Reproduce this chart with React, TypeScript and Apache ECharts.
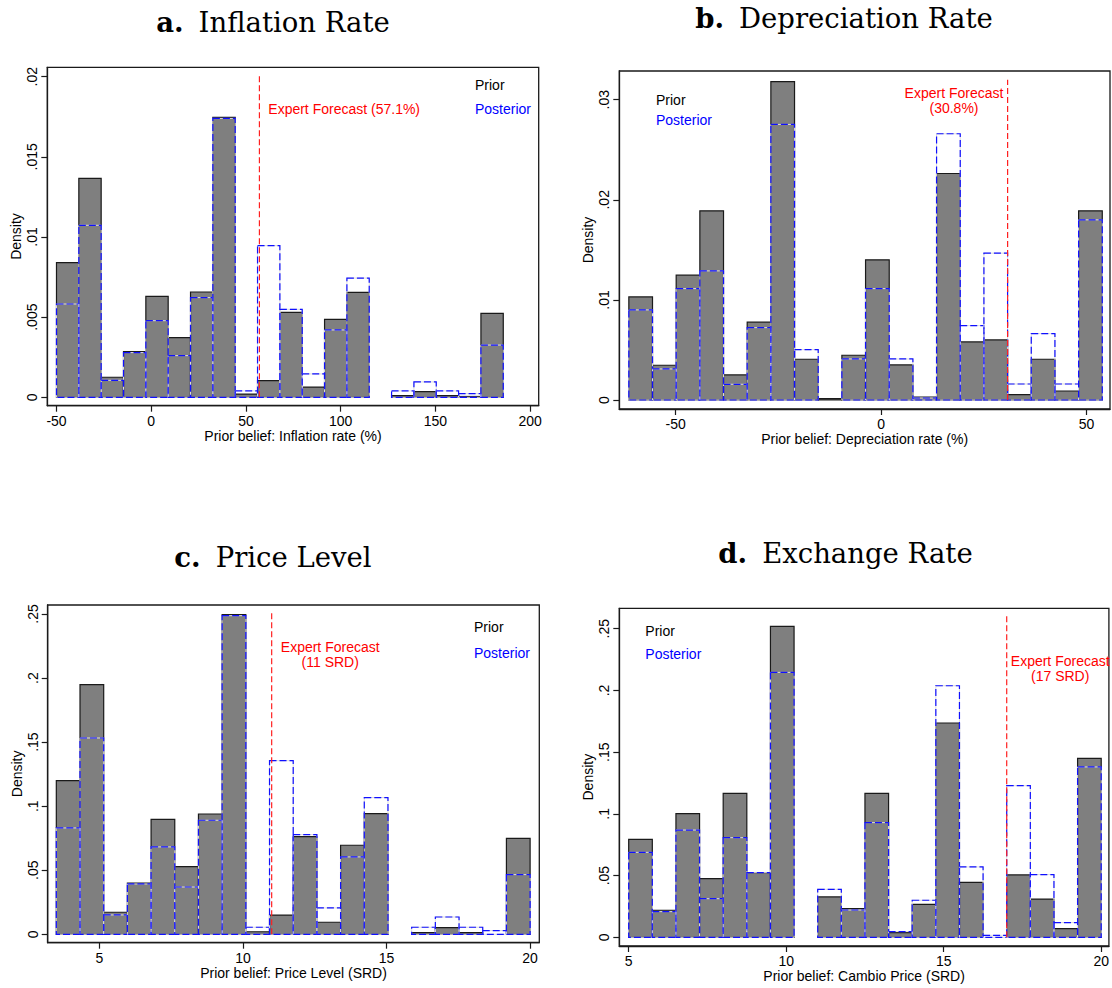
import React, { useEffect, useRef } from "react";
import * as echarts from "echarts";

// ---------- Data ----------
// Panel a: Inflation rate (%)
const inflBinStart = -50;
const inflBinWidth = 11.79;
const inflPrior = [0.0084, 0.01366, 0.00125, 0.00285, 0.0063, 0.00372, 0.00657, 0.01746, 0.0002, 0.00104, 0.0053, 0.00064, 0.00486, 0.00655, 0, 0.0001, 0.00035, 0.0001, 0.00005, 0.00524];
const inflPosterior = [0.00582, 0.01073, 0.00106, 0.00279, 0.00478, 0.0026, 0.00622, 0.0174, 0.0004, 0.00946, 0.00549, 0.00146, 0.0042, 0.00744, 0, 0.0004, 0.00096, 0.0004, 0.00023, 0.00326];
const inflForecast = 57.1;
const inflXTicks = [-50, 0, 50, 100, 150, 200];
const inflYTicks = [0, 0.005, 0.01, 0.015, 0.02];

// Panel b: Depreciation rate (%)
const depBinStart = -61.4;
const depBinWidth = 5.762;
const depPrior = [0.0103, 0.00347, 0.01247, 0.0189, 0.0025, 0.00777, 0.0318, 0.00407, 0.00013, 0.00447, 0.014, 0.0035, 0.0003, 0.02263, 0.0058, 0.006, 0.00053, 0.00407, 0.0009, 0.0189];
const depPosterior = [0.009, 0.0031, 0.01113, 0.0129, 0.00157, 0.00723, 0.02753, 0.00503, 0, 0.0041, 0.01113, 0.0041, 0.0002, 0.0266, 0.00743, 0.01467, 0.0016, 0.00663, 0.0016, 0.018];
const depForecast = 30.8;
const depXTicks = [-50, 0, 50];
const depYTicks = [0, 0.01, 0.02, 0.03];

// Panel c: Price level (SRD)
const priceBinStart = 3.5;
const priceBinWidth = 0.825;
const pricePrior = [0.1199, 0.1948, 0.0172, 0.04, 0.0897, 0.0528, 0.0939, 0.2495, 0.002, 0.015, 0.0762, 0.0094, 0.0695, 0.0942, 0, 0.0013, 0.0052, 0.0013, 0, 0.0749];
const pricePosterior = [0.083, 0.1532, 0.0151, 0.0393, 0.0682, 0.0369, 0.089, 0.2487, 0.0055, 0.1355, 0.0778, 0.0206, 0.0604, 0.1067, 0, 0.0055, 0.0135, 0.0055, 0.0029, 0.0466];
const priceForecast = 11;
const priceXTicks = [5, 10, 15, 20];
const priceYTicks = [0, 0.05, 0.1, 0.15, 0.2, 0.25];

// Panel d: Exchange rate (SRD)
const fxBinStart = 5;
const fxBinWidth = 0.75;
const fxPrior = [0.0794, 0.0219, 0.1002, 0.0475, 0.1166, 0.0524, 0.2519, 0, 0.0327, 0.0232, 0.1166, 0.0038, 0.0267, 0.1736, 0.0445, 0, 0.0505, 0.031, 0.007, 0.145];
const fxPosterior = [0.0688, 0.0208, 0.0869, 0.0313, 0.0807, 0.0524, 0.2146, 0, 0.0389, 0.0221, 0.0929, 0.0046, 0.03, 0.2038, 0.057, 0.0016, 0.1228, 0.0508, 0.0119, 0.138];
const fxForecast = 17;
const fxXTicks = [5, 10, 15, 20];
const fxYTicks = [0, 0.05, 0.1, 0.15, 0.2, 0.25];

// ---------- Layout ----------
const SANS = "'Liberation Sans', Arial, Helvetica, sans-serif";
const SERIF = "'DejaVu Serif', serif";

type Panel = {
  letter: string;
  title: string;
  titleX: number;
  titleY: number;
  grid: { left: number; top: number; width: number; height: number };
  xMin: number; xMax: number; yMin: number; yMax: number;
  xTicks: number[]; yTicks: number[];
  xName: string;
  binStart: number; binWidth: number;
  prior: number[]; posterior: number[];
  forecast: number; forecastTop: number;
  fcLines: string[]; fcX: number; fcY: number; fcAlign: string;
  legX: number; legY1: number; legY2: number;
};

const panels: Panel[] = [
  {
    letter: "a.", title: "Inflation Rate", titleX: 273, titleY: 22,
    grid: { left: 47.3, top: 67.3, width: 491.4, height: 338.4 },
    xMin: -54.85, xMax: 204.5, yMin: -0.000524, yMax: 0.020586,
    xTicks: inflXTicks, yTicks: inflYTicks,
    xName: "Prior belief: Inflation rate (%)",
    binStart: inflBinStart, binWidth: inflBinWidth, prior: inflPrior, posterior: inflPosterior,
    forecast: inflForecast, forecastTop: 0.0201,
    fcLines: ["Expert Forecast (57.1%)"], fcX: 268.3, fcY: 109, fcAlign: "left",
    legX: 475, legY1: 85, legY2: 109.3,
  },
  {
    letter: "b.", title: "Depreciation Rate", titleX: 844, titleY: 18,
    grid: { left: 619.3, top: 71, width: 490.7, height: 338 },
    xMin: -63.72, xMax: 55.72, yMin: -0.0009, yMax: 0.03287,
    xTicks: depXTicks, yTicks: depYTicks,
    xName: "Prior belief: Depreciation rate (%)",
    binStart: depBinStart, binWidth: depBinWidth, prior: depPrior, posterior: depPosterior,
    forecast: depForecast, forecastTop: 0.032,
    fcLines: ["Expert Forecast", "(30.8%)"], fcX: 954, fcY: 93.3, fcAlign: "center",
    legX: 656, legY1: 100, legY2: 120.3,
  },
  {
    letter: "c.", title: "Price Level", titleX: 273, titleY: 557,
    grid: { left: 47.7, top: 605, width: 491.6, height: 337.7 },
    xMin: 3.2, xMax: 20.32, yMin: -0.00656, yMax: 0.25702,
    xTicks: priceXTicks, yTicks: priceYTicks,
    xName: "Prior belief: Price Level (SRD)",
    binStart: priceBinStart, binWidth: priceBinWidth, prior: pricePrior, posterior: pricePosterior,
    forecast: priceForecast, forecastTop: 0.2505,
    fcLines: ["Expert Forecast", "(11 SRD)"], fcX: 330.2, fcY: 646.7, fcAlign: "center",
    legX: 474, legY1: 627.3, legY2: 652.7,
  },
  {
    letter: "d.", title: "Exchange Rate", titleX: 845.5, titleY: 553,
    grid: { left: 619.3, top: 608.3, width: 490.7, height: 337.7 },
    xMin: 4.702, xMax: 20.244, yMin: -0.00705, yMax: 0.26653,
    xTicks: fxXTicks, yTicks: fxYTicks,
    xName: "Prior belief: Cambio Price (SRD)",
    binStart: fxBinStart, binWidth: fxBinWidth, prior: fxPrior, posterior: fxPosterior,
    forecast: fxForecast, forecastTop: 0.2605,
    fcLines: ["Expert Forecast", "(17 SRD)"], fcX: 1060.2, fcY: 661, fcAlign: "center",
    legX: 645.3, legY1: 630.7, legY2: 654,
  },
];

function fmtDensity(v: number): string {
  if (v === 0) return "0";
  const s = String(Math.round(v * 100000) / 100000);
  return s.replace(/^0\./, ".");
}

function binData(start: number, width: number, vals: number[]) {
  return vals.map((v, i) => [start + i * width, start + (i + 1) * width, v]);
}

function buildOption() {
  const grid: any[] = [];
  const xAxis: any[] = [];
  const yAxis: any[] = [];
  const series: any[] = [];
  const graphic: any[] = [];

  panels.forEach((p, i) => {
    grid.push({
      left: p.grid.left, top: p.grid.top, width: p.grid.width, height: p.grid.height,
      show: true, borderColor: "#1a1a1a", borderWidth: 1.3, backgroundColor: "#fff",
      containLabel: false,
    });
    xAxis.push({
      type: "value", gridIndex: i, min: p.xMin, max: p.xMax,
      name: p.xName, nameLocation: "middle", nameGap: 23,
      nameTextStyle: { fontFamily: SANS, fontSize: 14, color: "#000" },
      axisLine: { show: true, onZero: false, lineStyle: { color: "#1a1a1a", width: 1.3 } },
      axisTick: { show: true, length: 6, customValues: p.xTicks, lineStyle: { color: "#1a1a1a", width: 1.2 } },
      axisLabel: { customValues: p.xTicks, margin: 8, fontFamily: SANS, fontSize: 14, color: "#000", formatter: (v: number) => String(v) },
      splitLine: { show: false },
    });
    yAxis.push({
      type: "value", gridIndex: i, min: p.yMin, max: p.yMax,
      name: "Density", nameLocation: "middle", nameGap: 24,
      nameTextStyle: { fontFamily: SANS, fontSize: 14, color: "#000" },
      axisLine: { show: true, onZero: false, lineStyle: { color: "#1a1a1a", width: 1.3 } },
      axisTick: { show: true, length: 6, customValues: p.yTicks, lineStyle: { color: "#1a1a1a", width: 1.2 } },
      axisLabel: { customValues: p.yTicks, rotate: 90, margin: 8, fontFamily: SANS, fontSize: 14, color: "#000", formatter: fmtDensity },
      splitLine: { show: false },
    });

    // Prior histogram (filled grey)
    series.push({
      type: "custom", name: "Prior", xAxisIndex: i, yAxisIndex: i, z: 2,
      data: binData(p.binStart, p.binWidth, p.prior),
      encode: { x: [0, 1], y: 2 },
      renderItem: (params: any, api: any) => {
        const v = api.value(2);
        if (!v) return null;
        const a = api.coord([api.value(0), 0]);
        const b = api.coord([api.value(1), v]);
        return {
          type: "rect",
          shape: { x: a[0], y: b[1], width: b[0] - a[0], height: a[1] - b[1] },
          style: { fill: "#7f7f7f", stroke: "#1a1a1a", lineWidth: 1.2 },
        };
      },
    });
    // Posterior histogram (dashed blue outline)
    series.push({
      type: "custom", name: "Posterior", xAxisIndex: i, yAxisIndex: i, z: 3,
      data: binData(p.binStart, p.binWidth, p.posterior),
      encode: { x: [0, 1], y: 2 },
      renderItem: (params: any, api: any) => {
        const v = api.value(2);
        if (!v) return null;
        const a = api.coord([api.value(0), 0]);
        const b = api.coord([api.value(1), v]);
        const shape = { x: a[0], y: b[1], width: b[0] - a[0], height: a[1] - b[1] };
        return {
          type: "group",
          children: [
            { type: "rect", shape, style: { fill: "none", stroke: "#dcdcdc", lineWidth: 1 } },
            { type: "rect", shape, style: { fill: "none", stroke: "#1010ff", lineWidth: 1.2, lineDash: [7, 3] } },
          ],
        };
      },
    });
    // Expert forecast line
    series.push({
      type: "line", xAxisIndex: i, yAxisIndex: i, z: 4, symbol: "none", silent: true,
      data: [[p.forecast, 0], [p.forecast, p.forecastTop]],
      lineStyle: { color: "#ff2020", width: 1.2, type: [6, 3] },
    });

    // Title
    graphic.push({
      type: "text", x: p.titleX, y: p.titleY,
      style: {
        text: `{b|${p.letter}}{n|${p.title}}`,
        align: "center", verticalAlign: "middle",
        rich: {
          b: { fontFamily: SERIF, fontWeight: "bold", fontSize: 27.5, fill: "#000" },
          n: { fontFamily: SERIF, fontSize: 27.5, fill: "#000", padding: [0, 0, 0, 15] },
        },
      },
    });
    // Forecast annotation
    p.fcLines.forEach((t, k) => {
      graphic.push({
        type: "text", x: p.fcX, y: p.fcY + k * 15,
        style: { text: t, fontFamily: SANS, fontSize: 14, fill: "#ff0000", align: p.fcAlign, verticalAlign: "middle" },
      });
    });
    // Legend texts
    graphic.push({
      type: "text", x: p.legX, y: p.legY1,
      style: { text: "Prior", fontFamily: SANS, fontSize: 14, fill: "#000", align: "left", verticalAlign: "middle" },
    });
    graphic.push({
      type: "text", x: p.legX, y: p.legY2,
      style: { text: "Posterior", fontFamily: SANS, fontSize: 14, fill: "#0000ff", align: "left", verticalAlign: "middle" },
    });
  });

  return {
    animation: false,
    backgroundColor: "#fff",
    grid, xAxis, yAxis, series, graphic,
  };
}

export default function App() {
  const ref = useRef<HTMLDivElement | null>(null);
  useEffect(() => {
    if (!ref.current) return;
    const chart = echarts.init(ref.current, undefined, { renderer: "svg" });
    chart.setOption(buildOption() as any);
    return () => chart.dispose();
  }, []);
  return (
    <div
      ref={ref}
      style={{ position: "absolute", left: 0, top: 0, width: 1112, height: 988, background: "#fff" }}
    />
  );
}
